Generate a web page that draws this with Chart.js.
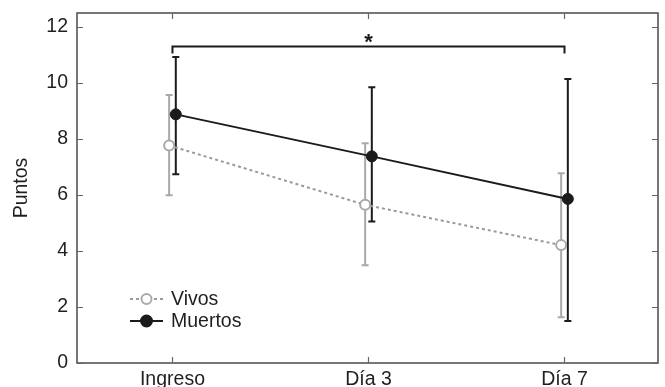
<!DOCTYPE html>
<html>
<head>
<meta charset="utf-8">
<script src="https://cdn.jsdelivr.net/npm/chart.js@4/dist/chart.umd.min.js"></script>
<style>
  html, body { margin: 0; padding: 0; background: #fff; }
  #wrap { width: 665px; height: 387px; }
</style>
</head>
<body>
<div id="wrap"><canvas id="c" width="665" height="387"></canvas></div>
<script>
// ---- data ----
const categories = ['Ingreso', 'Día 3', 'Día 7'];
const yTicks = [0, 2, 4, 6, 8, 10, 12];

const vivosMean  = [7.77, 5.65, 4.21];
const vivosUpper = [9.57, 7.85, 6.78];
const vivosLower = [5.99, 3.49, 1.63];

const muertosMean  = [8.88, 7.38, 5.86];
const muertosUpper = [10.93, 9.85, 10.14];
const muertosLower = [6.74, 5.05, 1.50];

const seriesNames = ['Vivos', 'Muertos'];

// significance bracket: from category index to category index, at height
const bracketFrom = 0;
const bracketTo = 2;
const bracketY = 11.3;
const bracketTipY = 11.05;
const bracketLabel = '*';

// ---- styling ----
const GREY = '#a9a9a9';
const GREY_LINE = '#9a9a9a';
const BLACK = '#1b1b1b';
const FONT = "'Liberation Sans', Arial, Helvetica, sans-serif";
const FS = 19.5;
const DODGE = 0.017;

const pts = (mean, off) => mean.map((v, i) => ({ x: i + off, y: v }));

const errorBars = {
  id: 'errorBars',
  beforeDatasetsDraw(chart) {
    const { ctx, scales: { x, y } } = chart;
    const sets = [
      { mean: vivosMean, lo: vivosLower, hi: vivosUpper, off: -DODGE, color: GREY },
      { mean: muertosMean, lo: muertosLower, hi: muertosUpper, off: DODGE, color: BLACK }
    ];
    ctx.save();
    ctx.lineWidth = 2;
    sets.forEach(s => {
      ctx.strokeStyle = s.color;
      s.mean.forEach((m, i) => {
        const px = x.getPixelForValue(i + s.off);
        const pLo = y.getPixelForValue(s.lo[i]);
        const pHi = y.getPixelForValue(s.hi[i]);
        ctx.beginPath();
        ctx.moveTo(px, pLo); ctx.lineTo(px, pHi);
        ctx.moveTo(px - 3.5, pLo); ctx.lineTo(px + 3.5, pLo);
        ctx.moveTo(px - 3.5, pHi); ctx.lineTo(px + 3.5, pHi);
        ctx.stroke();
      });
    });
    ctx.restore();
  }
};

const frameAndExtras = {
  id: 'frameAndExtras',
  afterDraw(chart) {
    const { ctx, chartArea: a, scales: { x, y } } = chart;
    ctx.save();
    // frame
    ctx.strokeStyle = '#4a4a4a';
    ctx.lineWidth = 1.5;
    ctx.strokeRect(a.left, a.top, a.right - a.left, a.bottom - a.top);
    // inside ticks
    ctx.lineWidth = 1.2;
    ctx.strokeStyle = '#666';
    ctx.beginPath();
    yTicks.forEach(t => {
      const py = Math.round(y.getPixelForValue(t)) + 0.5;
      ctx.moveTo(a.left, py); ctx.lineTo(a.left + 6, py);
      ctx.moveTo(a.right, py); ctx.lineTo(a.right - 6, py);
    });
    categories.forEach((c, i) => {
      const px = Math.round(x.getPixelForValue(i)) + 0.5;
      ctx.moveTo(px, a.bottom); ctx.lineTo(px, a.bottom - 6);
      ctx.moveTo(px, a.top); ctx.lineTo(px, a.top + 6);
    });
    ctx.stroke();
    // significance asterisk
    ctx.fillStyle = BLACK;
    ctx.font = 'bold 22px ' + FONT;
    ctx.textAlign = 'center';
    ctx.textBaseline = 'middle';
    ctx.fillText(bracketLabel, x.getPixelForValue((bracketFrom + bracketTo) / 2), y.getPixelForValue(bracketY) - 4);

    // legend
    const lx0 = 130, lx1 = 163, mx = 146.5, tx = 171;
    const rows = [
      { name: seriesNames[0], y: 299, dash: [3, 3], color: GREY_LINE, fill: '#fff', stroke: GREY, r: 5 },
      { name: seriesNames[1], y: 321, dash: [], color: BLACK, fill: BLACK, stroke: BLACK, r: 5.5 }
    ];
    rows.forEach(r => {
      ctx.setLineDash(r.dash);
      ctx.strokeStyle = r.color;
      ctx.lineWidth = 2;
      ctx.beginPath();
      ctx.moveTo(lx0, r.y); ctx.lineTo(lx1, r.y);
      ctx.stroke();
      ctx.setLineDash([]);
      ctx.beginPath();
      ctx.arc(mx, r.y, r.r, 0, Math.PI * 2);
      ctx.fillStyle = r.fill;
      ctx.fill();
      ctx.strokeStyle = r.stroke;
      ctx.stroke();
      ctx.fillStyle = '#1f1f1f';
      ctx.font = FS + 'px ' + FONT;
      ctx.textAlign = 'left';
      ctx.textBaseline = 'middle';
      ctx.fillText(r.name, tx, r.y + 1);
    });
    ctx.restore();
  }
};

const noPad = s => { s.paddingTop = 0; s.paddingBottom = 0; s.paddingLeft = 0; s.paddingRight = 0; };

new Chart(document.getElementById('c'), {
  type: 'line',
  data: {
    datasets: [
      {
        label: seriesNames[0],
        data: pts(vivosMean, -DODGE),
        borderColor: GREY_LINE,
        borderWidth: 2,
        borderDash: [3, 3],
        pointRadius: 5,
        pointBorderWidth: 2,
        pointBackgroundColor: '#fff',
        pointBorderColor: GREY,
        tension: 0,
        order: 2
      },
      {
        label: seriesNames[1],
        data: pts(muertosMean, DODGE),
        borderColor: BLACK,
        borderWidth: 2,
        pointRadius: 5.5,
        pointBorderWidth: 1,
        pointBackgroundColor: BLACK,
        pointBorderColor: BLACK,
        tension: 0,
        order: 1
      },
      {
        label: 'bracket',
        data: [
          { x: bracketFrom, y: bracketTipY },
          { x: bracketFrom, y: bracketY },
          { x: bracketTo, y: bracketY },
          { x: bracketTo, y: bracketTipY }
        ],
        borderColor: BLACK,
        borderWidth: 2,
        pointRadius: 0,
        tension: 0,
        order: 0
      }
    ]
  },
  options: {
    responsive: false,
    animation: false,
    devicePixelRatio: 1,
    layout: { padding: { top: 13, right: 4, left: 0, bottom: 0 } },
    plugins: { legend: { display: false }, tooltip: { enabled: false } },
    scales: {
      x: {
        type: 'linear',
        min: -0.487,
        max: 2.477,
        afterBuildTicks: s => { s.ticks = categories.map((c, i) => ({ value: i })); },
        afterFit: s => { s.height = 24; noPad(s); },
        grid: { display: false, drawTicks: false, tickLength: 0 },
        border: { display: false },
        ticks: {
          padding: 5,
          autoSkip: false,
          maxRotation: 0,
          color: '#1f1f1f',
          font: { family: FONT, size: FS },
          callback: v => categories[v]
        }
      },
      y: {
        min: 0,
        max: 12.5,
        afterBuildTicks: s => { s.ticks = yTicks.map(v => ({ value: v })); },
        afterFit: s => { s.width = 77; noPad(s); },
        grid: { display: false, drawTicks: false, tickLength: 0 },
        border: { display: false },
        ticks: {
          padding: 9,
          color: '#1f1f1f',
          font: { family: FONT, size: FS }
        },
        title: {
          display: true,
          text: 'Puntos',
          color: '#1f1f1f',
          font: { family: FONT, size: FS },
          padding: { top: 10, bottom: 0 }
        }
      }
    }
  },
  plugins: [errorBars, frameAndExtras]
});
</script>
</body>
</html>
